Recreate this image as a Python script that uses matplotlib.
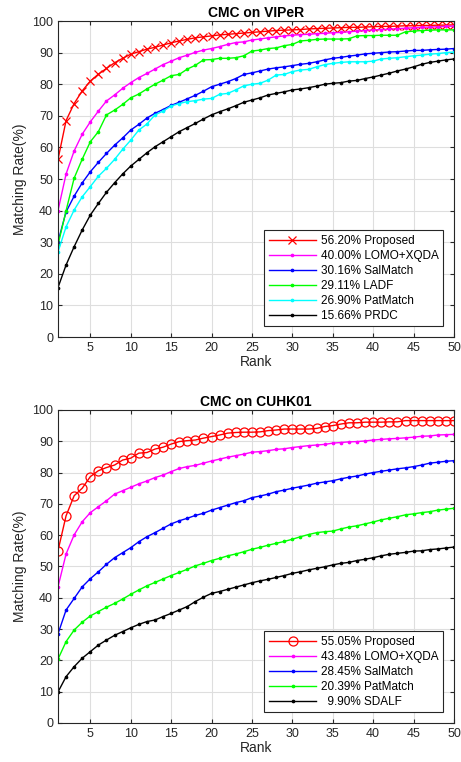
import matplotlib
matplotlib.use('Agg')
import matplotlib.pyplot as plt

plt.rcParams['font.family'] = ['Liberation Sans', 'DejaVu Sans']
plt.rcParams['font.size'] = 9

rank = list(range(1, 51))

# ---- VIPeR ----
viper_proposed = [56.2, 68.5, 73.9, 77.9, 81.0, 83.2, 85.0, 86.8, 88.2, 89.5,
                  90.3, 91.1, 91.7, 92.4, 93.1, 93.7, 94.2, 94.7, 95.0, 95.3,
                  95.6, 95.8, 96.0, 96.2, 96.4, 96.6, 96.8, 97.0, 97.1, 97.2,
                  97.3, 97.5, 97.6, 97.7, 97.8, 97.9, 98.0, 98.0, 98.1, 98.2,
                  98.3, 98.3, 98.4, 98.5, 98.5, 98.6, 98.6, 98.7, 98.7, 98.8]
viper_lomo = [40.0, 51.6, 58.9, 64.2, 68.1, 71.5, 74.7, 76.6, 78.7, 80.5,
              82.1, 83.4, 84.8, 86.2, 87.3, 88.4, 89.2, 90.1, 90.8, 91.3,
              91.9, 92.6, 93.2, 93.4, 94.0, 94.3, 94.7, 95.0, 95.3, 95.5,
              95.7, 95.8, 96.0, 96.1, 96.3, 96.4, 96.6, 96.8, 97.0, 97.2,
              97.3, 97.4, 97.6, 97.7, 97.9, 98.0, 98.1, 98.2, 98.3, 98.4]
viper_salmatch = [30.16, 39.6, 44.6, 48.8, 52.3, 55.3, 58.1, 60.7, 63.0, 65.5,
                  67.3, 69.3, 70.8, 72.0, 73.3, 74.3, 75.4, 76.5, 77.8, 79.2,
                  80.0, 80.8, 81.8, 83.1, 83.6, 84.2, 84.8, 85.2, 85.5, 85.9,
                  86.3, 86.6, 87.1, 87.7, 88.2, 88.5, 88.9, 89.2, 89.6, 89.8,
                  90.0, 90.2, 90.3, 90.5, 90.7, 90.7, 90.9, 91.0, 91.1, 91.3]
viper_ladf = [29.11, 40.0, 50.3, 56.3, 61.8, 65.0, 70.3, 71.8, 73.6, 75.7,
              76.9, 78.5, 80.0, 81.3, 82.7, 83.1, 84.8, 86.0, 87.7, 87.8,
              88.2, 88.2, 88.4, 89.0, 90.5, 90.8, 91.3, 91.5, 92.2, 92.6,
              93.7, 93.9, 94.2, 94.3, 94.3, 94.3, 94.4, 95.3, 95.4, 95.4,
              95.5, 95.5, 95.5, 96.6, 96.8, 97.0, 97.1, 97.2, 97.2, 97.2]
viper_patmatch = [26.9, 34.9, 40.2, 44.4, 47.6, 50.9, 53.4, 56.2, 59.4, 62.3,
                  65.5, 67.4, 70.3, 71.5, 73.1, 73.9, 74.5, 74.8, 75.3, 75.5,
                  76.8, 77.1, 78.2, 79.5, 80.0, 80.3, 81.3, 82.9, 83.1, 84.0,
                  84.5, 84.7, 85.5, 86.2, 86.6, 86.9, 87.1, 87.1, 87.1, 87.3,
                  88.0, 88.2, 88.4, 88.7, 89.0, 89.2, 89.5, 89.7, 90.0, 90.2]
viper_prdc = [15.66, 22.8, 28.6, 33.9, 38.6, 42.3, 45.8, 48.8, 51.6, 54.1,
              56.2, 58.3, 60.2, 61.8, 63.4, 65.0, 66.3, 67.6, 69.0, 70.3,
              71.3, 72.2, 73.2, 74.3, 75.0, 75.7, 76.6, 77.1, 77.6, 78.2,
              78.5, 78.9, 79.4, 80.0, 80.3, 80.5, 81.0, 81.2, 81.8, 82.3,
              82.9, 83.5, 84.2, 84.8, 85.5, 86.3, 86.9, 87.3, 87.7, 88.0]

# ---- CUHK01 ----
cuhk_proposed = [55.05, 66.2, 72.6, 75.0, 78.7, 80.6, 81.6, 82.4, 84.0, 84.6,
                 86.2, 86.4, 87.5, 88.1, 89.1, 89.9, 90.2, 90.4, 91.0, 91.5,
                 92.0, 92.6, 92.8, 92.9, 92.9, 93.0, 93.4, 93.6, 93.9, 93.9,
                 93.9, 93.9, 94.1, 94.7, 95.0, 95.5, 95.9, 95.9, 96.1, 96.1,
                 96.1, 96.2, 96.2, 96.6, 96.6, 96.6, 96.6, 96.6, 96.6, 96.6]
cuhk_lomo = [43.48, 54.0, 60.1, 64.3, 67.2, 69.1, 71.0, 73.1, 74.2, 75.3,
             76.4, 77.3, 78.4, 79.2, 80.3, 81.3, 81.9, 82.3, 83.0, 83.7,
             84.3, 84.9, 85.4, 85.9, 86.5, 86.7, 87.0, 87.4, 87.6, 88.0,
             88.3, 88.6, 88.8, 89.0, 89.4, 89.6, 89.8, 89.9, 90.1, 90.4,
             90.6, 90.8, 90.9, 91.1, 91.3, 91.6, 91.7, 92.0, 92.1, 92.2]
cuhk_salmatch = [28.45, 36.1, 39.8, 43.5, 46.1, 48.3, 50.7, 52.8, 54.4, 56.0,
                 57.9, 59.5, 60.8, 62.2, 63.6, 64.6, 65.4, 66.3, 67.0, 68.0,
                 68.8, 69.6, 70.4, 71.0, 72.0, 72.5, 73.1, 73.9, 74.4, 75.0,
                 75.5, 76.0, 76.6, 77.0, 77.4, 78.0, 78.5, 78.9, 79.5, 80.0,
                 80.4, 80.8, 81.2, 81.5, 81.9, 82.4, 83.0, 83.3, 83.6, 83.8]
cuhk_patmatch = [20.39, 26.0, 29.7, 32.2, 34.2, 35.6, 37.0, 38.2, 39.6, 41.1,
                 42.5, 43.8, 44.9, 46.0, 47.1, 48.1, 49.1, 50.2, 51.0, 51.9,
                 52.6, 53.4, 54.0, 54.7, 55.5, 56.1, 56.8, 57.4, 58.0, 58.7,
                 59.5, 60.2, 60.8, 61.1, 61.3, 62.0, 62.6, 63.0, 63.6, 64.2,
                 64.9, 65.4, 65.9, 66.5, 66.8, 67.2, 67.5, 68.0, 68.3, 68.6]
cuhk_sdalf = [9.9, 14.8, 18.0, 20.7, 22.8, 24.9, 26.5, 28.0, 29.2, 30.4,
              31.5, 32.4, 32.9, 34.0, 35.0, 36.1, 37.2, 38.8, 40.2, 41.4,
              42.0, 42.7, 43.4, 44.1, 44.8, 45.4, 45.9, 46.5, 47.1, 47.8,
              48.3, 48.9, 49.4, 49.9, 50.5, 51.0, 51.3, 51.9, 52.3, 52.8,
              53.4, 53.9, 54.2, 54.5, 54.9, 55.0, 55.4, 55.6, 55.9, 56.2]

viper_series = [
    (viper_proposed, '56.20% Proposed', 'red', 'x', 6),
    (viper_lomo, '40.00% LOMO+XQDA', 'magenta', '.', 3.5),
    (viper_salmatch, '30.16% SalMatch', 'blue', '.', 3.5),
    (viper_ladf, '29.11% LADF', 'lime', '.', 3.5),
    (viper_patmatch, '26.90% PatMatch', 'cyan', '.', 3.5),
    (viper_prdc, '15.66% PRDC', 'black', '.', 3.5),
]
cuhk_series = [
    (cuhk_proposed, '55.05% Proposed', 'red', 'o', 6.5),
    (cuhk_lomo, '43.48% LOMO+XQDA', 'magenta', '.', 3.5),
    (cuhk_salmatch, '28.45% SalMatch', 'blue', '.', 3.5),
    (cuhk_patmatch, '20.39% PatMatch', 'lime', '.', 3.5),
    (cuhk_sdalf, '  9.90% SDALF', 'black', '.', 3.5),
]

fig = plt.figure(figsize=(4.61, 7.62), dpi=100)
ax1 = fig.add_axes([0.1258, 0.5577, 0.8590, 0.4147])
ax2 = fig.add_axes([0.1258, 0.0512, 0.8590, 0.4108])


def draw(ax, series, title):
    for vals, lab, col, mk, ms in series:
        if mk == 'o':
            ax.plot(rank, vals, color=col, marker=mk, markersize=ms, linewidth=1,
                    markerfacecolor='none', markeredgewidth=0.9, label=lab)
        else:
            ax.plot(rank, vals, color=col, marker=mk, markersize=ms, linewidth=1,
                    markeredgewidth=0.9, label=lab)
    ax.set_xlim(1, 50)
    ax.set_ylim(0, 100)
    ax.set_xticks(range(5, 51, 5))
    ax.set_yticks(range(0, 101, 10))
    ax.grid(True, color='#dedede', linewidth=0.8)
    ax.set_axisbelow(True)
    ax.tick_params(direction='in', top=True, right=True, length=3,
                   labelsize=9, colors='#262626')
    for sp in ax.spines.values():
        sp.set_color('#262626')
        sp.set_linewidth(0.8)
    ax.set_xlabel('Rank', fontsize=10, color='#262626', labelpad=1)
    ax.set_ylabel('Matching Rate(%)', fontsize=10, color='#262626', labelpad=4)
    ax.set_title(title, fontsize=10, fontweight='bold', pad=3)
    leg = ax.legend(loc='lower right', fontsize=8.5, handlelength=4,
                    fancybox=False, edgecolor='#262626', framealpha=1,
                    borderaxespad=0.9, labelspacing=0.25, handletextpad=0.4)
    leg.get_frame().set_linewidth(0.8)


draw(ax1, viper_series, 'CMC on VIPeR')
draw(ax2, cuhk_series, 'CMC on CUHK01')

fig.savefig('out.png', dpi=100)
